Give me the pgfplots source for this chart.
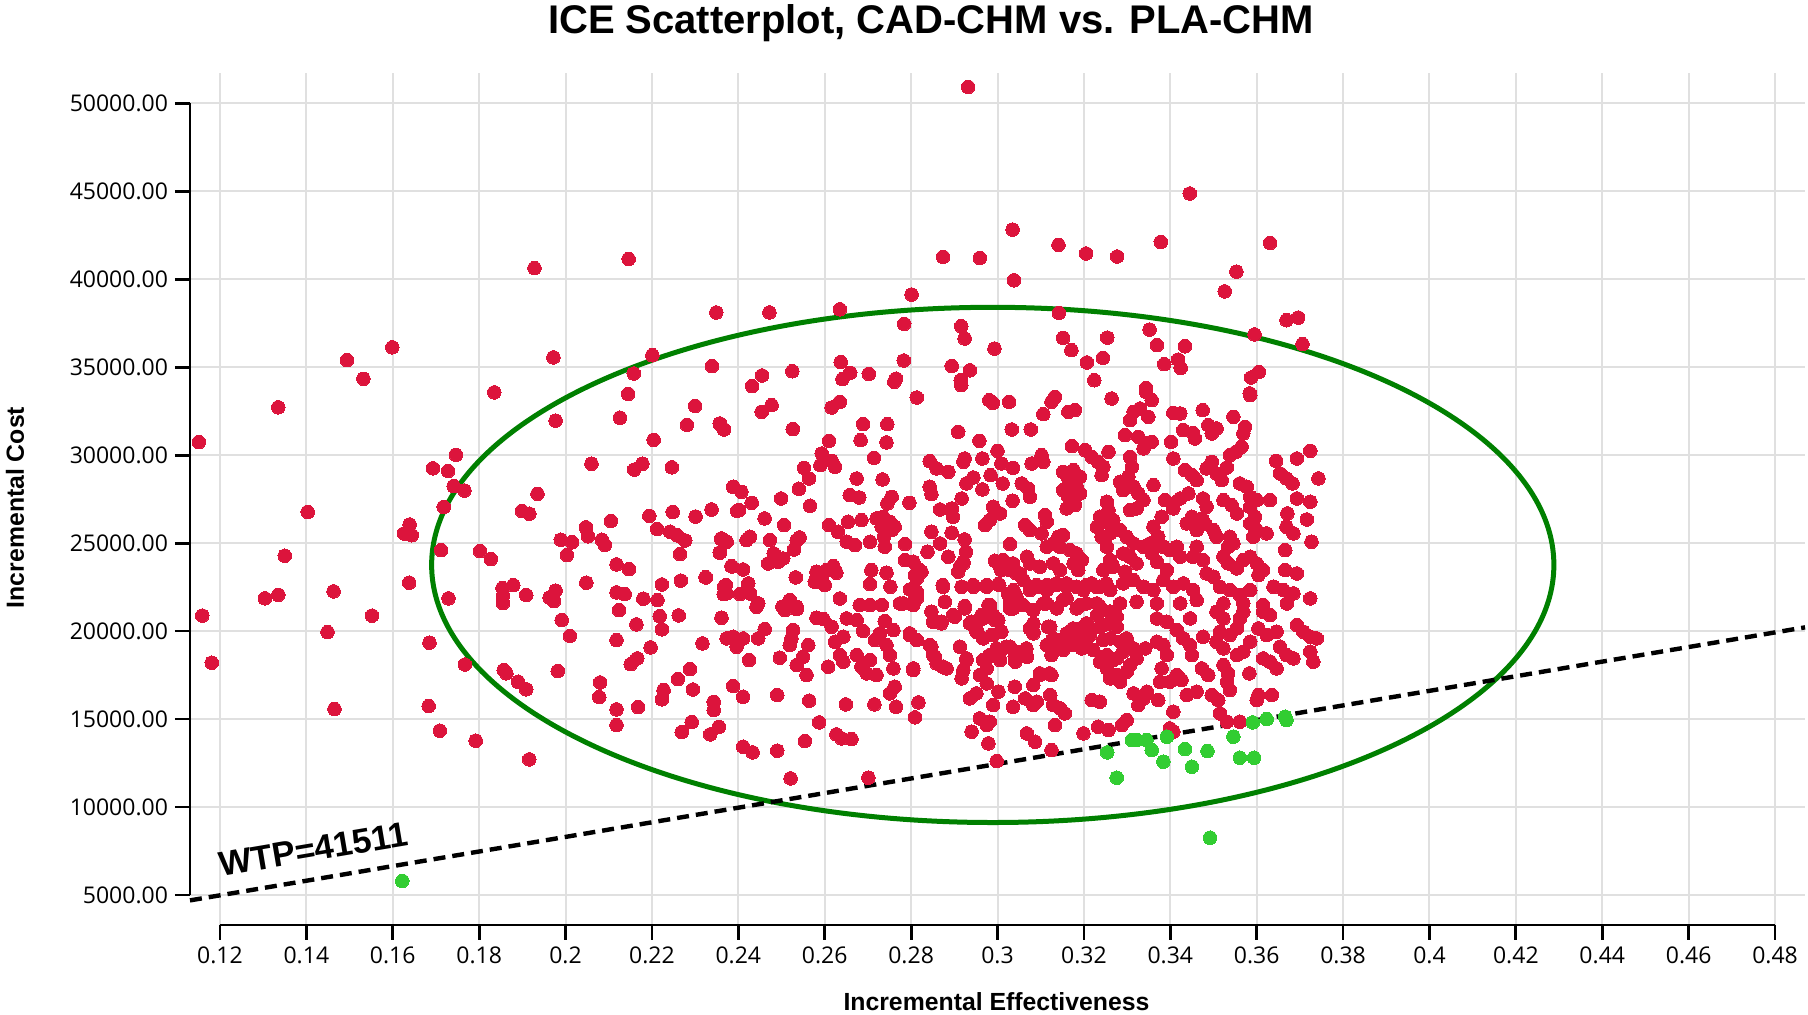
\documentclass[border=0pt]{standalone}
\usepackage{fontspec}
\setmainfont{Liberation Sans}
\newfontfamily\tickfont{Open Sans}
\usepackage{pgfplots}
\pgfplotsset{compat=1.18}
\usepackage{pgfplotstable}
\definecolor{ptred}{HTML}{DC143C}
\definecolor{ptgreen}{HTML}{32CD32}
\definecolor{ellgreen}{HTML}{008000}
\definecolor{gridgray}{HTML}{E0E0E0}

\pgfplotstableread{
x y
0.1151 30740
0.1335 32720
0.1494 35400
0.1532 34340
0.1599 36130
0.1928 40630
0.2146 41150
0.2349 38110
0.1972 35560
0.1835 33570
0.2201 35680
0.2339 35060
0.2158 34640
0.2145 33480
0.2300 32800
0.2126 32130
0.2281 31720
0.1977 31960
0.2358 31740
0.2366 31470
0.2204 30870
0.2060 29510
0.2159 29180
0.2178 29510
0.2246 29310
0.1746 30020
0.1693 29250
0.1728 29100
0.1741 28240
0.1766 27990
0.1718 27060
0.1935 27800
0.1899 26830
0.1916 26670
0.1403 26770
0.1639 26060
0.1626 25550
0.1644 25450
0.1712 24600
0.1802 24550
0.1827 24090
0.1350 24280
0.2003 24320
0.1989 25190
0.2015 25050
0.2047 25900
0.2052 25390
0.2084 25190
0.2091 24900
0.2105 26260
0.2194 26550
0.2212 25800
0.2248 26770
0.2242 25650
0.2258 25450
0.2277 25150
0.2301 26510
0.2338 26910
0.2265 24380
0.2360 25250
0.2368 25150
0.2358 24480
0.2389 28190
0.2397 26830
0.2385 23670
0.2118 23790
0.2147 23520
0.2048 22750
0.2267 22870
0.2223 22650
0.2324 23060
0.2371 22610
0.2366 22100
0.1638 22750
0.1463 22260
0.1304 21860
0.1335 22060
0.1159 20880
0.1552 20880
0.1729 21860
0.1854 22440
0.1879 22610
0.1855 22000
0.1855 21590
0.1909 22050
0.1977 22300
0.1963 21900
0.1973 21700
0.2118 22200
0.2137 22100
0.2180 21840
0.2213 21760
0.2124 21190
0.2932 50930
0.3445 44870
0.3035 42820
0.2874 41270
0.2959 41210
0.3141 41950
0.3205 41460
0.3277 41290
0.3378 42120
0.3631 42060
0.3038 39940
0.3553 40430
0.3526 39310
0.2801 39130
0.2472 38110
0.2635 38290
0.2784 37460
0.2916 37330
0.2924 36630
0.3142 38090
0.2993 36060
0.3152 36670
0.3171 35970
0.3254 36680
0.3352 37140
0.3369 36250
0.3434 36190
0.3595 36860
0.3669 37670
0.3696 37820
0.3706 36310
0.2455 34530
0.2432 33920
0.2525 34770
0.2637 35290
0.2659 34680
0.2641 34320
0.2702 34620
0.2783 35380
0.2765 34350
0.2761 34170
0.2894 35070
0.2936 34820
0.2915 34260
0.2916 33980
0.3207 35270
0.3244 35530
0.3224 34260
0.3386 35170
0.3418 35430
0.3424 34960
0.3605 34730
0.3587 34410
0.3344 33820
0.3584 33510
0.1181 18200
0.1449 19940
0.1465 15570
0.1685 19340
0.1683 15740
0.1709 14340
0.1767 18100
0.1792 13770
0.1857 17780
0.1863 17600
0.1890 17120
0.1909 16690
0.1916 12710
0.1982 17730
0.1991 20630
0.2010 19730
0.2080 17080
0.2078 16250
0.2118 19490
0.2118 15550
0.2118 14660
0.2168 15680
0.2164 20380
0.2151 18120
0.2166 18450
0.2197 19070
0.2218 20850
0.2223 20100
0.2262 20890
0.2227 16650
0.2223 16120
0.2260 17270
0.2288 17840
0.2295 16680
0.2317 19300
0.2292 14830
0.2269 14260
0.2335 14130
0.2343 15980
0.2343 15510
0.2355 14560
0.2813 33277
0.2981 33126
0.2989 32974
0.3027 33031
0.2454 32463
0.2477 32842
0.2616 32709
0.2635 33031
0.2357 31800
0.2367 31459
0.2526 31478
0.2689 31762
0.2745 31762
0.2683 30853
0.2743 30720
0.2610 30815
0.2909 31326
0.2958 30815
0.3033 31459
0.2593 30095
0.2590 29432
0.2616 29679
0.2624 29338
0.2552 29281
0.2564 28675
0.2714 29849
0.2843 29660
0.2859 29243
0.2886 29054
0.2924 29811
0.2921 29622
0.2965 29811
0.3000 30247
0.3009 29527
0.3036 29281
0.2674 28675
0.2734 28618
0.2944 28732
0.2928 28391
0.2984 28864
0.3012 28391
0.2388 28202
0.2407 27917
0.2540 28088
0.2658 27728
0.2680 27595
0.2755 27633
0.2745 27254
0.2843 28202
0.2847 27785
0.2796 27292
0.2917 27538
0.2965 28050
0.3035 27406
0.2499 27538
0.2431 27292
0.2338 26913
0.2402 26875
0.2566 27122
0.2867 26913
0.2894 26970
0.2897 26497
0.2990 27065
0.3006 26686
0.2982 26307
0.2971 26023
0.2461 26402
0.2506 26023
0.2610 26023
0.2631 25644
0.2654 26213
0.2685 26307
0.2720 26402
0.2735 26497
0.2751 26213
0.2762 25928
0.2732 25928
0.2755 25739
0.2651 25076
0.2670 24887
0.2705 25076
0.2737 25360
0.2739 24792
0.2786 24944
0.2847 25644
0.2894 25588
0.2924 25209
0.2927 24508
0.2867 24982
0.2838 24508
0.2886 24224
0.3029 24944
0.2361 25266
0.2373 25076
0.2357 24451
0.2427 25360
0.2419 25171
0.2473 25171
0.2535 25171
0.2542 25322
0.2529 24641
0.2482 24413
0.2504 24129
0.2469 23845
0.2492 23940
0.2384 23694
0.2411 23505
0.2325 23050
0.2533 23050
0.2581 23372
0.2604 23467
0.2620 23694
0.2577 22803
0.2593 22993
0.2627 23315
0.2600 22614
0.2708 23467
0.2743 23315
0.2786 24035
0.2805 23940
0.2820 23467
0.2813 22993
0.2705 22671
0.2752 22519
0.2797 22368
0.2813 22235
0.2809 21856
0.2873 22614
0.2913 23656
0.2921 23846
0.2909 23372
0.2917 22519
0.2944 22519
0.2975 22519
0.3004 22614
0.2994 23997
0.3013 24035
0.3036 23846
0.3009 23467
0.3025 22103
0.3040 21761
0.2367 22519
0.2373 22140
0.2404 22103
0.2423 22709
0.2427 22140
0.2446 21572
0.2519 21761
0.2502 21383
0.2535 21383
0.2635 21856
0.2681 21478
0.2705 21478
0.2732 21478
0.2774 21572
0.2878 21667
0.2924 21421
0.2983 21478
0.3133 33315
0.3125 33031
0.3264 33220
0.3357 33126
0.3344 33599
0.3585 33410
0.3106 32330
0.3164 32463
0.3179 32558
0.3315 32463
0.3330 32652
0.3307 31989
0.3349 32179
0.3407 32406
0.3423 32368
0.3475 32558
0.3546 32179
0.3573 31611
0.3569 31232
0.3077 31459
0.3430 31421
0.3452 31270
0.3457 30948
0.3488 31705
0.3507 31516
0.3496 31232
0.3295 31137
0.3326 31042
0.3345 30663
0.3357 30758
0.3338 30380
0.3402 30758
0.3565 30474
0.3552 30190
0.3538 30001
0.3531 29300
0.3172 30512
0.3203 30285
0.3218 29906
0.3257 30190
0.3233 29622
0.3245 29338
0.3102 30001
0.3106 29622
0.3079 29527
0.3307 29906
0.3311 29338
0.3303 28770
0.3407 29811
0.3496 29622
0.3484 29243
0.3507 28959
0.3519 28580
0.3434 29149
0.3450 28864
0.3461 28580
0.3645 29679
0.3693 29811
0.3724 30247
0.3654 28959
0.3669 28675
0.3683 28391
0.3743 28675
0.3561 28391
0.3577 28202
0.3152 29054
0.3176 29149
0.3164 28675
0.3191 28770
0.3183 28202
0.3241 28864
0.3284 28486
0.3291 28012
0.3315 28202
0.3326 27822
0.3361 28296
0.3056 28391
0.3071 28107
0.3075 27633
0.3152 28012
0.3164 27633
0.3179 27160
0.3191 27822
0.3160 26970
0.3253 27349
0.3257 26875
0.3237 26497
0.3253 26213
0.3268 26307
0.3307 26875
0.3322 26970
0.3338 27443
0.3388 27443
0.3407 27254
0.3423 27538
0.3442 27822
0.3407 26970
0.3476 27538
0.3484 27065
0.3523 27443
0.3542 27160
0.3554 26686
0.3585 27633
0.3600 27443
0.3585 27065
0.3596 26497
0.3631 27443
0.3693 27538
0.3724 27349
0.3671 26686
0.3716 26345
0.3380 26497
0.3110 26592
0.3114 26213
0.3064 26023
0.3075 25739
0.3102 25549
0.3141 25360
0.3152 25455
0.3230 25928
0.3241 25360
0.3261 25549
0.3284 25739
0.3299 25360
0.3315 24982
0.3361 25928
0.3372 25360
0.3353 24982
0.3438 26118
0.3450 26497
0.3473 26402
0.3480 26118
0.3461 25739
0.3500 25739
0.3507 25360
0.3538 25360
0.3546 24982
0.3534 24792
0.3585 26118
0.3600 25739
0.3623 25549
0.3592 25360
0.3669 25928
0.3685 25549
0.3727 25076
0.3666 24603
0.3068 24224
0.3075 23846
0.3098 23656
0.3114 24792
0.3129 24982
0.3145 24792
0.3168 24603
0.3183 24413
0.3195 24035
0.3176 23846
0.3187 23467
0.3129 23846
0.3145 23467
0.3253 24792
0.3261 24035
0.3268 23656
0.3245 23467
0.3291 24413
0.3307 24224
0.3322 23846
0.3295 23372
0.3338 24792
0.3357 24413
0.3369 23940
0.3384 24792
0.3399 24603
0.3392 23467
0.3415 24792
0.3423 24224
0.3461 24792
0.3453 24224
0.3476 24035
0.3484 23277
0.3500 23088
0.3523 24224
0.3534 23846
0.3554 23562
0.3569 24035
0.3585 24224
0.3600 23846
0.3615 23467
0.3604 23183
0.3666 23467
0.3693 23277
0.3044 23277
0.3060 22898
0.3037 22330
0.3091 22519
0.3114 22330
0.3137 22614
0.3160 22709
0.3183 22519
0.3199 22330
0.3218 22709
0.3237 22519
0.3261 22330
0.3291 22709
0.3315 22898
0.3338 22519
0.3361 22330
0.3384 22898
0.3407 22519
0.3430 22709
0.3453 22330
0.3515 22519
0.3538 22330
0.3561 22046
0.3585 22330
0.3639 22519
0.3662 22330
0.3685 22140
0.3724 21856
0.3052 21572
0.3106 21572
0.3152 21761
0.3191 21478
0.3230 21572
0.3284 21572
0.3322 21667
0.3369 21572
0.3423 21572
0.3461 21761
0.3523 21572
0.3569 21572
0.3615 21478
0.3670 21572
0.2361 20758
0.2442 21383
0.2508 21194
0.2535 21251
0.2581 20758
0.2597 20683
0.2616 20247
0.2651 20720
0.2674 20626
0.2689 20001
0.2739 20569
0.2759 20058
0.2728 19868
0.2716 19489
0.2743 19205
0.2751 18637
0.2805 21478
0.2847 21100
0.2851 20531
0.2870 20436
0.2901 20815
0.2936 20436
0.2951 19963
0.2967 20720
0.2990 20910
0.3002 20626
0.3029 21289
0.2373 19584
0.2388 19679
0.2411 19584
0.2396 19111
0.2446 19584
0.2461 20114
0.2425 18353
0.2496 18486
0.2519 19205
0.2527 20058
0.2523 19584
0.2562 19205
0.2550 18542
0.2535 18069
0.2558 17501
0.2608 17974
0.2624 19395
0.2643 19679
0.2635 18637
0.2643 18258
0.2674 18637
0.2685 17974
0.2697 17596
0.2705 18353
0.2720 17501
0.2759 17880
0.2797 19773
0.2813 19489
0.2805 17785
0.2843 19205
0.2851 18637
0.2859 18164
0.2882 17880
0.2913 19111
0.2928 18448
0.2921 17785
0.2917 17312
0.2967 18353
0.2975 17880
0.2959 17501
0.2975 17027
0.2982 18637
0.3006 18827
0.3029 19111
0.3040 18542
0.2967 19584
0.2990 19773
0.3009 19963
0.2951 20152
0.3040 16838
0.3002 16554
0.2990 15796
0.2936 16175
0.2951 16459
0.3036 15701
0.2959 15038
0.2975 14660
0.2982 14849
0.2940 14281
0.2979 13618
0.2998 12614
0.2388 16876
0.2411 16270
0.2490 16365
0.2564 16043
0.2762 16838
0.2751 16459
0.2649 15834
0.2715 15834
0.2765 15701
0.2817 15947
0.2809 15095
0.2587 14811
0.2627 14129
0.2639 13902
0.2662 13864
0.2554 13751
0.2411 13429
0.2433 13107
0.2490 13201
0.2521 11629
0.2701 11667
0.3075 20152
0.3083 19868
0.3044 18826
0.3068 18542
0.3041 18258
0.3122 20247
0.3129 19584
0.3114 19205
0.3125 18637
0.3145 19016
0.3160 19395
0.3176 19773
0.3191 20152
0.3206 20436
0.3214 19773
0.3195 19016
0.3230 20910
0.3245 20342
0.3261 21099
0.3276 20247
0.3261 19584
0.3284 19395
0.3291 18826
0.3276 18448
0.3253 18637
0.3237 18258
0.3253 17880
0.3261 17312
0.3284 17122
0.3276 17501
0.3299 17690
0.3299 19584
0.3315 19016
0.3322 18448
0.3307 18069
0.3342 19016
0.3369 19395
0.3384 19205
0.3392 18637
0.3380 17880
0.3376 17122
0.3399 17122
0.3415 17501
0.3426 17217
0.3369 20720
0.3392 20531
0.3415 20058
0.3430 19584
0.3446 19205
0.3450 18637
0.3446 20720
0.3476 19679
0.3473 17880
0.3488 17501
0.3507 21099
0.3523 20720
0.3515 19963
0.3507 19395
0.3523 19016
0.3538 19773
0.3554 20152
0.3561 20720
0.3569 21099
0.3523 18069
0.3534 17596
0.3531 17122
0.3538 16649
0.3554 18637
0.3569 18826
0.3585 19395
0.3604 20152
0.3623 19773
0.3631 20910
0.3615 21099
0.3646 19963
0.3654 19111
0.3669 18637
0.3685 18448
0.3646 17880
0.3631 18258
0.3615 18448
0.3693 20342
0.3708 19963
0.3724 19679
0.3739 19584
0.3724 18827
0.3731 18258
0.3583 17596
0.3604 16364
0.3600 16080
0.3635 16364
0.3083 16933
0.3098 17501
0.3125 17501
0.3064 16175
0.3091 15986
0.3083 15796
0.3122 16364
0.3129 15796
0.3145 15607
0.3156 15322
0.3133 14660
0.3068 14186
0.3087 13713
0.3125 13239
0.3199 14186
0.3218 16080
0.3237 15986
0.3233 14565
0.3257 14376
0.3288 14660
0.3299 14944
0.3315 16459
0.3326 15796
0.3338 16175
0.3346 16554
0.3372 16080
0.3407 15417
0.3399 14470
0.3407 14281
0.3438 16364
0.3461 16554
0.3496 16364
0.3511 16080
0.3515 15322
0.3531 14849
0.3561 14849
0.2809 23183
0.2824 23372
0.2805 22330
0.2813 21857
0.2782 21573
0.2874 22520
0.2878 21668
0.2847 21100
0.2870 20531
0.2897 20910
0.2917 22520
0.2944 22614
0.2975 22614
0.3002 22671
0.2913 23656
0.2921 23940
0.2924 21289
0.2940 20531
0.2952 19963
0.2967 19584
0.2986 19773
0.3006 19963
0.2994 20626
0.2979 21478
0.2963 20910
0.3029 21573
0.3044 21952
0.3036 21289
0.3059 21478
0.3075 22330
0.3083 21194
0.3090 22614
0.3114 22614
0.3137 22709
0.3160 22520
0.3183 22520
0.3206 22614
0.3229 22520
0.3252 22709
0.3006 23656
0.3029 23467
0.3052 23277
0.3114 21573
0.3137 21289
0.3160 21857
0.3183 21289
0.3206 21573
0.3237 21383
0.3260 21100
0.3083 20436
0.3083 19963
0.3117 20247
0.3129 19489
0.3160 19868
0.3175 20152
0.3191 19489
0.3214 20058
0.3237 20247
0.3260 20436
0.3276 20815
0.2797 19868
0.2813 19489
0.2847 19111
0.2855 18543
0.2874 17974
0.2913 19111
0.2928 18353
0.2921 17785
0.2805 17880
0.2979 18543
0.2998 19016
0.3021 19111
0.3044 18732
0.3067 19016
0.3006 18353
0.3098 17596
0.3121 17596
0.3125 18637
0.3152 18921
0.3175 19205
0.3206 19489
0.3222 18921
0.3245 19489
0.3268 18353
}\redpts

\pgfplotstableread{
x y
0.1622 5800
0.3254 13107
0.3276 11667
0.3311 13808
0.3322 13808
0.3345 13808
0.3357 13239
0.3384 12576
0.3392 13997
0.3434 13296
0.3450 12292
0.3486 13182
0.3492 8258
0.3546 13997
0.3561 12804
0.3594 12804
0.3591 14811
0.3623 15000
0.3666 15133
0.3669 14944
}\greenpts

\begin{document}
\begin{tikzpicture}
\useasboundingbox (-95pt,-45pt) rectangle (809pt,462.5pt);
\begin{axis}[
  at={(0,0)}, anchor=south west,
  width=807.5pt, height=426pt, scale only axis,
  xmin=0.11306, xmax=0.48694, ymin=3295, ymax=51722,
  axis lines*=left,
  axis line style={draw=none},
  xtick={0.12,0.14,0.16,0.18,0.2,0.22,0.24,0.26,0.28,0.3,0.32,0.34,0.36,0.38,0.4,0.42,0.44,0.46,0.48},
  ytick={5000,10000,15000,20000,25000,30000,35000,40000,45000,50000},
  grid=major, major grid style={gridgray, line width=1pt},
  tick align=outside, major tick length=7.5pt,
  tick style={black, line width=1.4pt},
  scaled ticks=false,
  /pgf/number format/assume math mode=true,
  ticklabel style={font=\tickfont\fontsize{11.5}{13}\selectfont},
  yticklabel={\pgfmathprintnumber[assume math mode=true,fixed,fixed zerofill,precision=2,1000 sep={}]{\tick}},
  xticklabel={\pgfmathprintnumber[assume math mode=true,fixed,precision=2]{\tick}},
  clip=false,
]
\addplot[only marks, mark=*, mark size=3.4pt, mark options={draw=ptred, fill=ptred, line width=0pt}] table[x=x,y=y]{\redpts};
\addplot[only marks, mark=*, mark size=3.4pt, mark options={draw=ptgreen, fill=ptgreen, line width=0pt}] table[x=x,y=y]{\greenpts};
\draw[ellgreen, line width=2.5pt] (axis cs:0.2989,23762) ellipse [x radius=0.1299, y radius=14642];
\addplot[black, line width=2.2pt, dash pattern=on 6pt off 3.5pt] coordinates {(0.11306,4693) (0.48694,20213)};
\draw[black, line width=1.4pt] (axis cs:0.12,3295) -- (axis cs:0.48,3295);
\draw[black, line width=1.4pt] (axis cs:0.11306,5000) -- (axis cs:0.11306,50000);
\node[rotate=9.6, anchor=base west, font=\bfseries\fontsize{17.3}{19}\selectfont, inner sep=0pt] at (axis cs:0.1202,6023) {WTP=41511};
\end{axis}
\node[anchor=base, font=\bfseries\fontsize{20}{24}\selectfont] at (370.5pt,445.5pt) {ICE Scatterplot, CAD-CHM vs. PLA-CHM};
\node[anchor=base, font=\bfseries\fontsize{12.4}{15}\selectfont] at (403.25pt,-43pt) {Incremental Effectiveness};
\node[anchor=base, rotate=90, font=\bfseries\fontsize{12.4}{15}\selectfont] at (-83pt,208.75pt) {Incremental Cost};
\end{tikzpicture}
\end{document}
